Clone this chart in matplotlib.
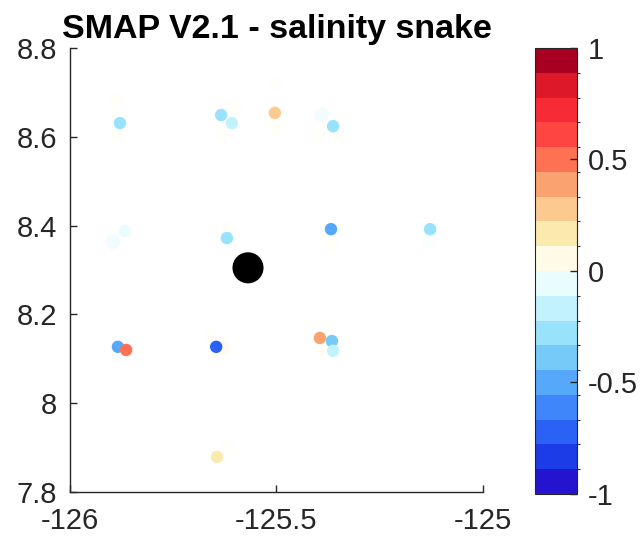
import matplotlib
matplotlib.use("Agg")
import matplotlib.pyplot as plt
from matplotlib.colors import ListedColormap, BoundaryNorm
import numpy as np

plt.rcParams['font.family'] = ['Liberation Sans', 'DejaVu Sans']

# Salinity difference samples along the snake track (clear retrievals)
lon = [-125.879, -125.634, -125.608, -125.504, -125.363, -125.620,
       -125.368, -125.128, -125.884, -125.864, -125.646, -125.644,
       -125.395, -125.366, -125.363, -125.867]
lat = [8.631, 8.649, 8.631, 8.654, 8.624, 8.372,
       8.392, 8.392, 8.127, 8.120, 8.127, 7.879,
       8.147, 8.140, 8.118, 8.388]
sss_diff = [-0.30, -0.30, -0.18, 0.30, -0.25, -0.25,
            -0.52, -0.32, -0.45, 0.48, -0.75, 0.13,
            0.42, -0.40, -0.20, -0.10]

# Low-weight samples (drawn faded)
lon_faint = [-125.504, -125.390, -125.896, -125.370, -125.132, -125.630,
             -125.884, -125.884, -125.630, -125.600, -125.505, -125.400,
             -125.350, -125.620, -125.660, -125.390, -125.620]
lat_faint = [8.721, 8.649, 8.363, 8.356, 8.365, 8.125,
             8.683, 8.605, 8.605, 8.665, 8.625, 8.600,
             8.600, 8.395, 8.150, 8.125, 7.905]
sss_faint = [0.10, -0.15, -0.12, 0.08, -0.10, 0.20,
             0.04, 0.04, 0.04, 0.03, 0.04, 0.03,
             0.05, 0.03, 0.04, 0.04, 0.04]

# Mooring location
site_lon = [-125.569]
site_lat = [8.305]

cbar_ticks = [-1, -0.5, 0, 0.5, 1]
cbar_labels = ['-1', '-0.5', '0', '0.5', '1']
x_ticks = [-126, -125.5, -125]
x_labels = ['-126', '-125.5', '-125']
y_ticks = [7.8, 8.0, 8.2, 8.4, 8.6, 8.8]
y_labels = ['7.8', '8', '8.2', '8.4', '8.6', '8.8']

# 18-step diverging palette, blue (negative) to red (positive)
band_colors = ['#2414cf', '#1c3ce8', '#2a62f6', '#3f86fb', '#56a8fb',
               '#76caf8', '#98e2fb', '#c2f3fd', '#e9fdff',
               '#fffbe6', '#fbeaae', '#fcc98f', '#fba370', '#fe7152',
               '#ff4541', '#f72b35', '#dd1828', '#a70020']
cmap = ListedColormap(band_colors)
bounds = np.linspace(-1, 1, len(band_colors) + 1)
norm = BoundaryNorm(bounds, cmap.N)

fig = plt.figure(figsize=(6.41, 5.39), dpi=100)
ax = fig.add_axes([0.1092, 0.0872, 0.6443, 0.8237])
cax = fig.add_axes([0.8346, 0.0835, 0.0655, 0.8275])

ax.scatter(lon_faint, lat_faint, c=sss_faint, cmap=cmap, norm=norm, s=110,
           edgecolors='none', alpha=0.22, zorder=1)
sc = ax.scatter(lon, lat, c=sss_diff, cmap=cmap, norm=norm, s=80,
                edgecolors='none', zorder=2)
ax.scatter(site_lon, site_lat, c='black', s=500, edgecolors='none', zorder=3)

ax.set_xlim(-126, -125)
ax.set_ylim(7.8, 8.8)
ax.set_xticks(x_ticks)
ax.set_xticklabels(x_labels)
ax.set_yticks(y_ticks)
ax.set_yticklabels(y_labels)

spine_col = '#262626'
for side in ['top', 'right']:
    ax.spines[side].set_visible(False)
for side in ['left', 'bottom']:
    ax.spines[side].set_color(spine_col)
    ax.spines[side].set_linewidth(1.0)
ax.tick_params(direction='in', length=5, width=1.0, colors=spine_col,
               labelsize=21, labelcolor='#262626')
ax.tick_params(axis='y', pad=9)
ax.tick_params(axis='x', pad=11)

ax.set_title('SMAP V2.1 - salinity snake', fontsize=24.5, fontweight='bold',
             pad=7, color='black')

cb = fig.colorbar(sc, cax=cax, ticks=cbar_ticks)
cb.set_ticklabels(cbar_labels)
cb.outline.set_edgecolor(spine_col)
cb.outline.set_linewidth(0.8)
cax.tick_params(direction='in', length=5, width=1.0, colors=spine_col,
                labelsize=21, labelcolor='#262626', pad=8)

fig.savefig('out.png', dpi=100)
